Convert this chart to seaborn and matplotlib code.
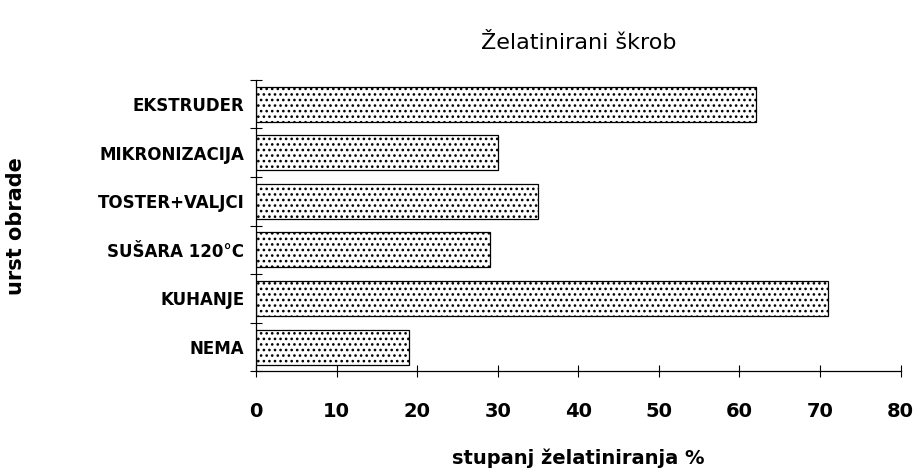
import matplotlib
matplotlib.use("Agg")
import matplotlib.pyplot as plt
import seaborn as sns
import numpy as np

# podaci
obrade = ["EKSTRUDER", "MIKRONIZACIJA", "TOSTER+VALJCI", "SUŠARA 120°C", "KUHANJE", "NEMA"]
zelatinirano = [62, 30, 35, 29, 71, 19]
x_ticks = [0, 10, 20, 30, 40, 50, 60, 70, 80]

sns.set_style("white")
plt.rcParams["hatch.linewidth"] = 1.1
plt.rcParams["font.family"] = ["DejaVu Sans"]
plt.rcParams["text.color"] = "black"
plt.rcParams["axes.labelcolor"] = "black"
plt.rcParams["xtick.color"] = "black"
plt.rcParams["ytick.color"] = "black"

fig = plt.figure(figsize=(9.18, 4.70), dpi=100)
ax = fig.add_axes([0.279, 0.21, 0.702, 0.62])

sns.barplot(x=zelatinirano, y=obrade, orient="h", color="white",
            edgecolor="black", linewidth=0.9, width=0.72, ax=ax)
for p in ax.patches:
    p.set_hatch("...")

ax.set_xlim(0, 80)
ax.set_ylim(len(obrade) - 0.5, -0.5)
ax.set_xticks(x_ticks)
ax.set_xticklabels([str(t) for t in x_ticks], fontsize=14, fontweight="bold")
ax.set_yticks(range(len(obrade)))
ax.set_yticklabels(obrade, fontsize=12, fontweight="bold")
ax.tick_params(axis="y", which="major", left=False, pad=5)
ax.tick_params(axis="x", bottom=True, direction="inout", length=8, width=0.8, pad=18)
ax.set_yticks(np.arange(-0.5, len(obrade)), minor=True)
ax.tick_params(axis="y", which="minor", left=True, direction="inout", length=8, width=0.8)

for s in ["top", "right"]:
    ax.spines[s].set_visible(False)
for s in ["left", "bottom"]:
    ax.spines[s].set_color("black")
    ax.spines[s].set_linewidth(0.9)

ax.set_xlabel("stupanj želatiniranja %", fontsize=14, fontweight="bold", labelpad=20)
ax.set_ylabel("urst obrade", fontsize=15, fontweight="bold")
ax.yaxis.set_label_coords(-0.357, 0.5)
ax.set_title("Želatinirani škrob", fontsize=16, pad=22)

fig.savefig("out.png", dpi=100)
